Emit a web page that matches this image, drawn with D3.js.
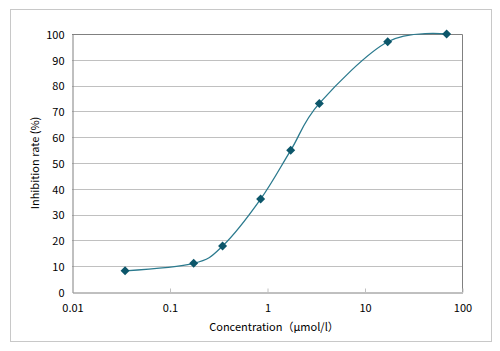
<!DOCTYPE html>
<html lang="ja">
<head>
<meta charset="utf-8">
<script src="https://d3js.org/d3.v7.min.js"></script>
<style>
  * { margin: 0; padding: 0; }
  body { background: #fff; width: 500px; height: 351px; overflow: hidden; }
  text { font-family: "Noto Sans CJK JP", "Liberation Sans", Arial, sans-serif; fill: #000; }
</style>
</head>
<body>
<script>
// concentration (µmol/l) and inhibition (%)
const concentration = [0.035, 0.177, 0.35, 0.86, 1.75, 3.44, 17.3, 69.6];
const inhibition = [8.2, 11.1, 17.8, 36.0, 54.9, 73.1, 97.0, 100];
const xTicks = [0.01, 0.1, 1, 10, 100];
const yTicks = [0, 10, 20, 30, 40, 50, 60, 70, 80, 90, 100];

const w = 500, h = 351;
const plotL = 72, plotR = 462, plotT = 34, plotB = 292;

const svg = d3.select("body").append("svg")
    .attr("width", w)
    .attr("height", h);

// outer chart border
svg.append("rect")
    .attr("x", 10.5).attr("y", 9.5)
    .attr("width", 481).attr("height", 332)
    .attr("fill", "#fff")
    .attr("stroke", "#c8c8c8");

const x = d3.scaleLog().domain([0.01, 100]).range([plotL, plotR]);
const y = d3.scaleLinear().domain([0, 100]).range([plotB, plotT]);

// gridlines
svg.append("g")
    .selectAll("line")
    .data(yTicks.slice(1, -1))
    .join("line")
    .attr("x1", plotL).attr("x2", plotR)
    .attr("y1", d => Math.round(y(d)) + 0.5)
    .attr("y2", d => Math.round(y(d)) + 0.5)
    .attr("stroke", "#c0c0c0");

// frame top/right
svg.append("path")
    .attr("d", `M${plotL},${plotT + 0.5}H${plotR + 0.5}V${plotB}`)
    .attr("fill", "none")
    .attr("stroke", "#808080");

// y axis
const yAxis = svg.append("g")
    .attr("transform", `translate(${plotL + 0.5},0.5)`)
    .call(d3.axisLeft(y).tickValues(yTicks).tickSize(0).tickPadding(8));
yAxis.select(".domain").attr("stroke", "#808080");
yAxis.selectAll("text").attr("font-size", 11).attr("dy", "0.35em");

// x axis (ticks point inward)
const xAxis = svg.append("g")
    .attr("transform", `translate(0.5,${plotB + 0.5})`)
    .call(d3.axisBottom(x).tickValues(xTicks).tickFormat(d => String(d)).tickSizeInner(-4).tickSizeOuter(0).tickPadding(12));
xAxis.select(".domain").attr("stroke", "#808080");
xAxis.selectAll(".tick line").attr("stroke", "#c0c0c0");
xAxis.selectAll("text").attr("font-size", 11);

// smoothed line
const pts = concentration.map((c, i) => [x(c), y(inhibition[i])]);
svg.append("path")
    .datum(pts)
    .attr("d", d3.line().curve(d3.curveCardinal.tension(0)))
    .attr("fill", "none")
    .attr("stroke", "#2b7a8e")
    .attr("stroke-width", 1.3);

// diamond markers
svg.append("g")
    .selectAll("path")
    .data(pts)
    .join("path")
    .attr("transform", d => `translate(${d[0]},${d[1]})`)
    .attr("d", "M0,-4.5L4.5,0L0,4.5L-4.5,0Z")
    .attr("fill", "#0c566a");

// axis titles
svg.append("text")
    .attr("x", 274).attr("y", 331)
    .attr("text-anchor", "middle")
    .attr("font-size", 11)
    .text("Concentration（μmol/l）");

svg.append("text")
    .attr("transform", `translate(39,${(plotT + plotB) / 2}) rotate(-90)`)
    .attr("text-anchor", "middle")
    .attr("font-size", 11)
    .text("Inhibition rate (%)");
</script>
</body>
</html>
